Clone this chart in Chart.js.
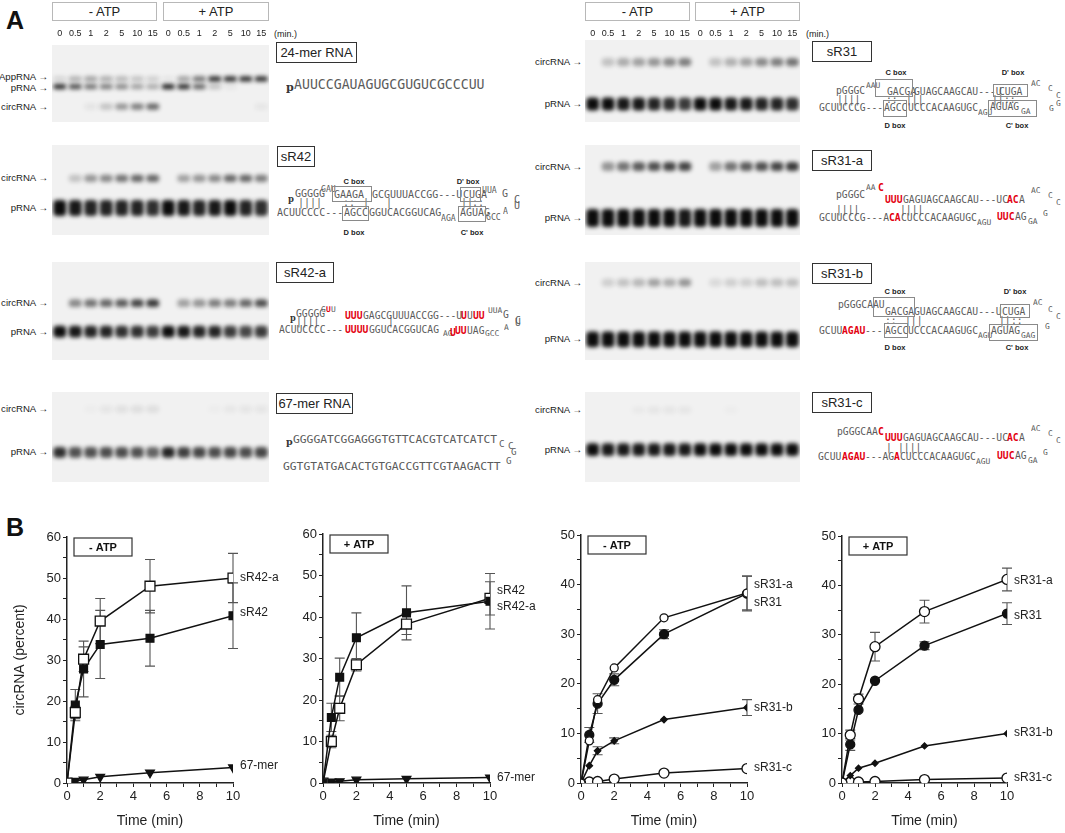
<!DOCTYPE html>
<html><head><meta charset="utf-8">
<script src="https://cdn.jsdelivr.net/npm/chart.js@4.4.1/dist/chart.umd.min.js"></script>
<style>
html,body{margin:0;padding:0;background:#fff;}
#root{position:relative;width:1065px;height:833px;overflow:hidden;font-family:"Liberation Sans",Arial,sans-serif;color:#222;}
canvas{position:absolute;}
.t{position:absolute;white-space:pre;line-height:1;transform:translateY(-50%);}
.hdr{position:absolute;border:1px solid #b8b8b8;box-sizing:border-box;font-size:13px;display:flex;align-items:center;justify-content:center;color:#222;}
.name{position:absolute;border:1.5px solid #333;box-sizing:border-box;font-size:13px;display:flex;align-items:center;justify-content:center;color:#222;}
.seq{font-family:"DejaVu Sans Mono","Liberation Mono",monospace;color:#5a5a5a;opacity:0.99;}
.bx{position:absolute;border:1px solid #8a8a8a;box-sizing:border-box;}
.red{color:#e3000f;font-weight:bold;}
.lab{font-weight:bold;font-size:7.5px;color:#222;transform:translate(-50%,-50%);}
.arr{position:absolute;white-space:pre;line-height:1;transform:translateY(-50%);font-size:9.6px;color:#222;text-align:right;}
.big{position:absolute;font-weight:bold;font-size:25px;line-height:1;color:#111;}
</style></head>
<body><div id="root"></div>
<script>
// ---------------- DATA ----------------
const laneLabels = ['0','0.5','1','2','5','10','15','0','0.5','1','2','5','10','15'];

// gel band positions (migration, 0 = top of gel, 100 = bottom) and intensities per lane
const g24_pos = [44, 54, 80];            // AppRNA, pRNA, circRNA
const g24_App  = [0.12,0.28,0.35,0.3,0.25,0.2,0.15, 0.05,0.35,0.55,0.85,0.85,0.85,0.85];
const g24_p    = [0.85,0.7,0.55,0.5,0.45,0.35,0.3, 0.9,0.85,0.6,0.2,0.05,0,0];
const g24_circ = [0,0,0.06,0.2,0.4,0.5,0.6, 0,0,0,0,0,0,0.05];

const gR42_pos  = [37, 70];
const gR42_circ = [0,0.2,0.4,0.45,0.55,0.6,0.6, 0,0.35,0.4,0.45,0.6,0.6,0.5];
const gR42_p    = [1,0.95,0.9,0.9,0.9,0.9,0.85, 1,0.95,0.9,0.95,1,0.9,0.85];

const gR42a_pos  = [42, 71];
const gR42a_circ = [0,0.45,0.55,0.6,0.65,0.75,0.8, 0,0.35,0.4,0.5,0.5,0.6,0.7];
const gR42a_p    = [1,0.95,0.9,0.9,0.85,0.85,0.8, 1,0.95,0.9,0.9,0.8,0.75,0.8];

const g67_pos  = [19, 67];
const g67_circ = [0,0,0.02,0.05,0.07,0.08,0.08, 0,0,0,0.02,0.04,0.05,0.05];
const g67_p    = [0.85,0.7,0.7,0.72,0.72,0.7,0.62, 0.9,0.78,0.75,0.72,0.75,0.72,0.75];

const gR31_pos  = [27, 78];
const gR31_circ = [0,0.2,0.3,0.35,0.4,0.45,0.5, 0,0.2,0.28,0.35,0.45,0.5,0.55];
const gR31_p    = [1,1,0.95,0.95,0.9,0.85,0.8, 1,1,0.95,0.95,0.9,0.9,0.85];

const gR31a_pos  = [24, 81];
const gR31a_circ = [0,0.4,0.55,0.65,0.7,0.75,0.75, 0,0.35,0.55,0.65,0.7,0.75,0.8];
const gR31a_p    = [1,1,1,1,1,1,0.95, 1,1,1,1,1,1,1];

const gR31b_pos  = [21, 79];
const gR31b_circ = [0,0.15,0.2,0.25,0.35,0.3,0.4, 0,0.1,0.15,0.15,0.22,0.22,0.22];
const gR31b_p    = [1,1,1,1,1,1,1, 1,1,1,1,1,1,1];

const gR31c_pos  = [20, 64];
const gR31c_circ = [0,0,0,0.03,0.05,0.05,0.05, 0,0,0.02,0,0,0,0];
const gR31c_p    = [1,0.95,0.95,0.95,0.95,0.95,0.95, 1,1,1,1,1,1,1];

// kinetics (panel B)
const times = [0, 0.5, 1, 2, 5, 10];
// chart 1: - ATP, sR42 family
const c1_sR42a = [0, 17.2, 30.2, 39.5, 48, 50];
const c1_sR42a_err = [0, 1.5, 3, 5.5, 6.5, 6];
const c1_sR42 = [0, 19, 27.8, 33.8, 35.3, 40.8];
const c1_sR42_err = [0, 3.8, 6.8, 8.3, 6.8, 8];
const c1_67mer = [0, 0.5, 0.8, 1.5, 2.5, 3.8];
const c1_labels = ['sR42-a', 'sR42', '67-mer'];
const c1_labelAt = [50, 41.5, 4.2];
// chart 2: + ATP, sR42 family
const c2_sR42 = [0, 15.8, 25.5, 35, 41, 43.8];
const c2_sR42_err = [0, 3.4, 4.6, 6, 6.5, 6.7];
const c2_sR42a = [0, 10, 18, 28.5, 38.3, 44.5];
const c2_sR42a_err = [0, 1.5, 3, 1.5, 2.5, 4];
const c2_67mer = [0, 0.3, 0.4, 0.8, 1, 1.3];
const c2_labels = ['sR42', 'sR42-a', '67-mer'];
const c2_labelAt = [46.3, 42.6, 1.2];
// chart 3: - ATP, sR31 family
const c3_sR31a = [0, 8.5, 16.8, 23.2, 33.3, 38.3];
const c3_sR31a_err = [0, 0, 0, 0, 0, 3.4];
const c3_sR31 = [0, 9.7, 16, 20.8, 30, 38.2];
const c3_sR31_err = [0, 1.5, 2, 1.2, 0.9, 3.5];
const c3_sR31b = [0, 3.5, 6.5, 8.5, 12.8, 15.2];
const c3_sR31b_err = [0, 0, 0.8, 0.6, 0, 1.6];
const c3_sR31c = [0, 0.2, 0.3, 0.8, 2, 2.9];
const c3_labels = ['sR31-a', 'sR31', 'sR31-b', 'sR31-c'];
const c3_labelAt = [40, 36.3, 15.1, 3];
// chart 4: + ATP, sR31 family
const c4_sR31a = [0, 9.7, 17, 27.6, 34.7, 41.2];
const c4_sR31a_err = [0, 1, 1, 2.9, 2.3, 2.3];
const c4_sR31 = [0, 7.8, 14.8, 20.7, 27.8, 34.3];
const c4_sR31_err = [0, 1.2, 0, 0, 0.8, 2.2];
const c4_sR31b = [0, 1.5, 3, 4, 7.5, 10];
const c4_sR31c = [0, 0.2, 0.2, 0.3, 0.7, 1];
const c4_labels = ['sR31-a', 'sR31', 'sR31-b', 'sR31-c'];
const c4_labelAt = [40.9, 33.8, 10.1, 1];

// ---------------- HELPERS ----------------
const root = document.getElementById('root');
function el(tag, cls, css, text){ const e=document.createElement(tag); if(cls) e.className=cls; Object.assign(e.style, css||{}); if(text!==undefined) e.textContent=text; root.appendChild(e); return e; }
function T(x,y,s,cls,fs){ return el('span','t '+(cls||''),{left:x+'px',top:y+'px',fontSize:(fs||10)+'px'},s); }
function canvas(x,y,w,h){ const c=document.createElement('canvas'); c.width=w; c.height=h; c.style.left=x+'px'; c.style.top=y+'px'; c.style.width=w+'px'; c.style.height=h+'px'; root.appendChild(c); return c; }
function hdr(x,y,w,h,s){ el('div','hdr',{left:x+'px',top:y+'px',width:w+'px',height:h+'px'},s); }
function nameBox(x,y,w,h,s){ el('div','name',{left:x+'px',top:y+'px',width:w+'px',height:h+'px'},s); }
function arrow(xr,y,s){ el('span','arr',{right:(1065-xr)+'px',top:y+'px'},s+' \u2192'); }
function seq(list, fs){
  list.forEach(([x,y,s,f])=>{ f=f||''; let size=fs; if(f.includes('s')) size=fs*0.82;
    if(f.includes('p')) size=fs*0.85;
    const e=T(x,y,s,'seq'+(f.includes('r')?' red':''),size);
    if(f.includes('p')){e.style.fontFamily='"DejaVu Serif",serif';e.style.fontWeight='bold';e.style.color='#333';} });
}
function boxes(list){ list.forEach(([x1,y1,x2,y2])=>el('div','bx',{left:x1+'px',top:y1+'px',width:(x2-x1)+'px',height:(y2-y1)+'px'})); }
function labs(list){ list.forEach(([x,y,s])=>el('span','t lab',{left:x+'px',top:y+'px'},s)); }

// ---------------- PANEL A: gels ----------------
const gelPlugin = {
  id:'gelPlugin',
  beforeDatasetsDraw(chart){ const {ctx,chartArea:a}=chart; ctx.save(); ctx.fillStyle='#f1f1f1'; ctx.fillRect(a.left,a.top,a.right-a.left,a.bottom-a.top); ctx.restore(); ctx.save(); ctx.filter='blur(2px)'; },
  afterDatasetsDraw(chart){ chart.ctx.restore(); },
  afterDraw(chart, args, opts){
    if(!opts || !opts.labelY) return;
    const {ctx, scales:{x}} = chart;
    ctx.save(); ctx.font='9px "Liberation Sans", Arial'; ctx.fillStyle='#222'; ctx.textAlign='center'; ctx.textBaseline='middle';
    chart.data.labels.forEach((l,i)=>ctx.fillText(l, x.getPixelForValue(i), opts.labelY));
    ctx.restore();
  }
};
function gel(x, top, w, h, padTop, labelY, bands){
  const c = canvas(x, top, w, h);
  new Chart(c, {
    type:'bar',
    data:{ labels: laneLabels, datasets: bands.map(([pos,hh,vals])=>({
      data: vals.map(()=>[pos-hh,pos+hh]),
      backgroundColor: vals.map(a=>`rgba(12,12,12,${a})`),
      grouped:false, categoryPercentage:1, barPercentage:0.84, borderWidth:0, borderRadius:4, borderSkipped:false })) },
    options:{ responsive:false, animation:false, events:[], layout:{padding:{top:padTop,left:0,right:0,bottom:0}},
      plugins:{legend:{display:false}, tooltip:{enabled:false}, gelPlugin:{labelY}},
      scales:{
        x:{ display:false },
        y:{ display:false, min:0, max:100, reverse:true }
      } },
    plugins:[gelPlugin]
  });
}
// left column
gel(52, 25, 217, 97, 20, 9, [[g24_pos[0],3.5,g24_App],[g24_pos[1],3.5,g24_p],[g24_pos[2],4,g24_circ]]);
gel(52, 145, 217, 90, 0, 0, [[gR42_pos[0],4,gR42_circ],[gR42_pos[1],9,gR42_p]]);
gel(52, 262, 217, 98, 0, 0, [[gR42a_pos[0],4,gR42a_circ],[gR42a_pos[1],6,gR42a_p]]);
gel(52, 392, 217, 90, 0, 0, [[g67_pos[0],4,g67_circ],[g67_pos[1],6,g67_p]]);
// right column
gel(585, 25, 215, 97, 15, 9, [[gR31_pos[0],5,gR31_circ],[gR31_pos[1],8,gR31_p]]);
gel(585, 145, 215, 90, 0, 0, [[gR31a_pos[0],5,gR31a_circ],[gR31a_pos[1],10,gR31a_p]]);
gel(585, 262, 215, 98, 0, 0, [[gR31b_pos[0],4,gR31b_circ],[gR31b_pos[1],8,gR31b_p]]);
gel(585, 392, 215, 90, 0, 0, [[gR31c_pos[0],4,gR31c_circ],[gR31c_pos[1],7,gR31c_p]]);

// headers, labels
el('span','big',{left:'6px',top:'8px'},'A');
el('span','big',{left:'6px',top:'515px'},'B');
hdr(52,2,105,19,'- ATP'); hdr(163,2,106,19,'+ ATP');
hdr(585,2,105,19,'- ATP'); hdr(695,2,105,19,'+ ATP');
T(274,34,'(min.)','',9); T(806,34,'(min.)','',9);
arrow(48,77,'AppRNA'); arrow(48,88,'pRNA'); arrow(48,107,'circRNA');
arrow(48,178,'circRNA'); arrow(48,208,'pRNA');
arrow(48,303,'circRNA'); arrow(48,332,'pRNA');
arrow(48,409,'circRNA'); arrow(48,452,'pRNA');
arrow(582,62,'circRNA'); arrow(582,104,'pRNA');
arrow(582,167,'circRNA'); arrow(582,218,'pRNA');
arrow(582,283,'circRNA'); arrow(582,339,'pRNA');
arrow(582,410,'circRNA'); arrow(582,450,'pRNA');
nameBox(276,42,81,21,'24-mer RNA'); nameBox(277,146,38,21,'sR42');
nameBox(276,262,58,21,'sR42-a'); nameBox(276,393,77,21,'67-mer RNA');
nameBox(812,41,60,21,'sR31'); nameBox(812,150,60,21,'sR31-a');
nameBox(812,263,60,21,'sR31-b'); nameBox(812,392,60,21,'sR31-c');

// sequences
seq([[286,88,'p','p'],[294,85,'AUUCCGAUAGUGCGUGUCGCCCUU']],13.2);
// sR42
seq([[288,199,'p','p'],[295,194,'GGGGG'],[321,189,'GAU','s'],[334,195,'GAAGA'],[372,195,'GCGUUUACCGG---U'],[463,195,'CUGA'],[482,190,'UUA','s'],[502,194,'G'],[514,200,'C'],
     [298,203,'||||'],[343,203,'::'],[363,203,'|'],[386,203,'|'],[461,203,'||'],[472,203,'::'],
     [277,213,'ACUUCCCC---'],[344,213,'AGCC'],[369,213,'GGUCACGGUCAG'],[441,218,'AGA','s'],[460,213,'AGUAG'],[486,217,'GCC','s'],[503,211,'A','s'],[514,206,'U']],10);
boxes([[332,186,372,202],[460,187,481,202],[342,206,369,221],[458,206,486,222]]);
labs([[354,182,'C box'],[468,182,"D' box"],[354,233,'D box'],[472,233,"C' box"]]);
// sR42-a
seq([[290,318,'p','p'],[296,314,'GGGGG'],[321,310,'G','s'],[326,310,'U','sr'],[331,310,'U','s'],[345,316,'UUU','r'],[363,316,'GAGCGUUUACCGG---U'],[461,316,'U','r'],[467,316,'U'],[473,316,'UU','r'],[488,311,'UUA','s'],[503,315,'G'],[515,321,'C'],
     [296,322,'||||'],[388,322,'|'],
     [279,330,'ACUUCCCC---'],[345,330,'UUUU','r'],[369,330,'GGUCACGGUCAG'],[443,334,'AG','s'],[450,333,'U','r'],[455,331,'UU','r'],[467,331,'UAG'],[485,334,'GCC','s'],[504,328,'A','s'],[515,323,'U']],9.7);
// 67-mer
seq([[286,442,'p','p'],[293,440,'GGGGATCGGAGGGTGTTCACGTCATCATCT'],[499,444,'C','s'],[508,446,'C','s'],[511,452,'G','s'],[506,461,'G','s'],
     [283,467,'GGTGTATGACACTGTGACCGTTCGTAAGACTT']],11.3);
// sR31
seq([[836,91,'pGGGC'],[866,86,'AAU','s'],[887,92,'GACGA'],[914,92,'GUAGCAAGCAU---U'],[999,92,'CUGA'],[1031,84,'AC','s'],[1048,89,'C','s'],[1056,96,'C','s'],[1056,104,'G','s'],[1049,109,'G','s'],
     [837,100,'||||'],[886,100,'::'],[906,100,'|||'],[992,100,'||'],[1004,100,'::'],
     [819,108,'GCUUCCCG---'],[884,108,'AGCC'],[908,108,'UCCCACAAGUGC'],[978,113,'AGU','s'],[990,107,'AGUAG'],[1021,112,'GA','s']],9.7);
boxes([[875,79,913,97],[993,84,1028,97],[883,100,907,117],[988,100,1037,117]]);
labs([[896,73,'C box'],[1013,73,"D' box"],[895,126,'D box'],[1017,126,"C' box"]]);
// sR31-a
seq([[836,195,'pGGGC'],[866,188,'AA','s'],[878,188,'C','r'],[885,200,'UUU','r'],[903,200,'GAGUAGCAAGCAU---UC'],[1007,200,'AC','r'],[1019,200,'A'],[1031,191,'AC','s'],[1048,196,'C','s'],[1056,203,'C','s'],
     [836,210,'||||'],[900,210,'||||'],
     [819,218,'GCUUCCCG---A'],[889,218,'CA','r'],[901,218,'CUCCCACAAGUGC'],[977,223,'AGU','s'],[997,217,'UUC','r'],[1015,217,'AG'],[1028,222,'GA','s'],[1043,214,'G','s']],9.7);
// sR31-b
seq([[838,305,'pGGGCAAU'],[885,312,'GACGA'],[914,312,'GUAGCAAGCAU---U'],[1002,312,'CUGA'],[1033,303,'AC','s'],[1048,310,'C','s'],[1056,317,'C','s'],
     [885,321,'::'],[905,321,'|||'],[999,321,'||'],[1011,321,'::'],
     [819,331,'GCUU'],[842,331,'AGAU','r'],[865,331,'---'],[885,331,'AGCC'],[908,331,'UCCCACAAGUGC'],[978,336,'AGU','s'],[991,331,'AGUAG'],[1021,336,'GAG','s'],[1045,327,'G','s']],9.7);
boxes([[873,297,915,317],[1000,304,1030,318],[884,323,908,338],[989,324,1038,341]]);
labs([[895,292,'C box'],[1015,292,"D' box"],[895,348,'D box'],[1017,348,"C' box"]]);
// sR31-c
seq([[837,432,'pGGGCAA'],[878,432,'C','r'],[885,438,'UUU','r'],[903,438,'GAGUAGCAAGCAU---UC'],[1007,438,'AC','r'],[1019,438,'A'],[1031,429,'AC','s'],[1048,434,'C','s'],[1056,441,'C','s'],
     [886,448,'|'],[898,448,'||||'],
     [818,457,'GCUU'],[842,457,'AGAU','r'],[865,457,'---AG'],[894,457,'A','r'],[900,457,'CUCCCACAAGUGC'],[976,462,'AGU','s'],[997,456,'UUC','r'],[1015,456,'AG'],[1028,461,'GA','s'],[1043,453,'G','s']],9.7);

// ---------------- PANEL B: kinetics ----------------
const errorBars = {
  id:'errorBars',
  beforeDatasetsDraw(chart){
    const {ctx, scales:{x,y}} = chart;
    ctx.save(); ctx.strokeStyle='#555'; ctx.lineWidth=1.1;
    chart.data.datasets.forEach(ds=>{
      if(!ds.err) return;
      ds.data.forEach((p,i)=>{ const e=ds.err[i]; if(!e) return;
        const px=x.getPixelForValue(p.x), y1=y.getPixelForValue(p.y+e), y2=y.getPixelForValue(p.y-e);
        ctx.beginPath(); ctx.moveTo(px,y1); ctx.lineTo(px,y2);
        ctx.moveTo(px-5,y1); ctx.lineTo(px+5,y1); ctx.moveTo(px-5,y2); ctx.lineTo(px+5,y2); ctx.stroke(); });
    });
    ctx.restore();
  }
};
const extras = {
  id:'extras',
  afterDraw(chart, args, opts){
    const {ctx, chartArea:a, scales:{y}} = chart;
    ctx.save();
    const bx=a.left+7, by=a.top+1, bw=58, bh=18;
    ctx.fillStyle='#fff'; ctx.fillRect(bx,by,bw,bh);
    ctx.strokeStyle='#333'; ctx.lineWidth=1.2; ctx.strokeRect(bx,by,bw,bh);
    ctx.fillStyle='#111'; ctx.font='bold 11px "Liberation Sans", Arial'; ctx.textAlign='center'; ctx.textBaseline='middle';
    ctx.fillText(opts.cond, bx+bw/2, by+bh/2+0.5);
    ctx.font='12px "Liberation Sans", Arial'; ctx.textAlign='left'; ctx.fillStyle='#222';
    opts.names.forEach((n,i)=>ctx.fillText(n, a.right+7, y.getPixelForValue(opts.at[i])));
    ctx.restore();
  }
};
function series(vals, err, ps, r, fill, rot){
  return { data: times.map((t,i)=>({x:t, y:vals[i]})), err, borderColor:'#111', borderWidth:1.5,
    pointStyle:ps, pointRadius:r, pointHoverRadius:r, pointBackgroundColor:fill, pointBorderColor:'#111', pointBorderWidth:1.3, pointRotation:rot||0, tension:0, fill:false };
}
function kin(left, w, yW, padR, padT, yMax, cond, names, at, datasets, yTitle){
  const c = canvas(left, 505, w, 328);
  const tickFont = {size:13, family:'Liberation Sans'};
  const grid = {display:true, drawOnChartArea:false, drawTicks:true, tickLength:4, color:'#222'};
  const border = {display:true, color:'#222', width:1.5};
  new Chart(c, {
    type:'line',
    data:{ datasets },
    options:{ responsive:false, animation:false, events:[], layout:{padding:{top:padT, right:padR, left:0, bottom:0}},
      plugins:{ legend:{display:false}, tooltip:{enabled:false}, extras:{cond, names, at} },
      scales:{
        x:{ type:'linear', min:0, max:10, afterFit: s=>{ s.height=50; },
            ticks:{ stepSize:1, autoSkip:false, maxRotation:0, font:tickFont, color:'#222', padding:2, callback:v=> v%2===0 ? String(v) : '' },
            grid, border,
            title:{ display:true, text:'Time (min)', font:{size:14, family:'Liberation Sans'}, color:'#222', padding:{top:0, bottom:3} } },
        y:{ min:0, max:yMax, afterFit: s=>{ s.width=yW; },
            ticks:{ stepSize:5, autoSkip:false, font:tickFont, color:'#222', padding:2, callback:v=> v%10===0 ? String(v) : '' },
            grid, border,
            title:{ display: !!yTitle, text: yTitle || '', font:{size:14, family:'Liberation Sans'}, color:'#222', padding:{top:12, bottom:0} } }
      } },
    plugins:[errorBars, extras]
  });
}
kin(0, 280, 67, 47, 32, 60, '- ATP', c1_labels, c1_labelAt, [
  series(c1_sR42a, c1_sR42a_err, 'rect', 7, '#fff'),
  series(c1_sR42, c1_sR42_err, 'rect', 5.5, '#111'),
  series(c1_67mer, null, 'triangle', 5, '#111', 180)
], 'circRNA (percent)');
kin(270, 270, 53, 50, 29, 60, '+ ATP', c2_labels, c2_labelAt, [
  series(c2_sR42, c2_sR42_err, 'rect', 5.5, '#111'),
  series(c2_sR42a, c2_sR42a_err, 'rect', 7, '#fff'),
  series(c2_67mer, null, 'triangle', 5, '#111', 180)
]);
kin(530, 265, 51, 48, 30, 50, '- ATP', c3_labels, c3_labelAt, [
  series(c3_sR31a, c3_sR31a_err, 'circle', 4, '#fff'),
  series(c3_sR31, c3_sR31_err, 'circle', 4.5, '#111'),
  series(c3_sR31b, c3_sR31b_err, 'rectRot', 3.2, '#111'),
  series(c3_sR31c, null, 'circle', 5, '#fff')
]);
kin(795, 270, 47, 58, 31, 50, '+ ATP', c4_labels, c4_labelAt, [
  series(c4_sR31a, c4_sR31a_err, 'circle', 5, '#fff'),
  series(c4_sR31, c4_sR31_err, 'circle', 4.5, '#111'),
  series(c4_sR31b, null, 'rectRot', 3, '#111'),
  series(c4_sR31c, null, 'circle', 5, '#fff')
]);
</script>
</body></html>
